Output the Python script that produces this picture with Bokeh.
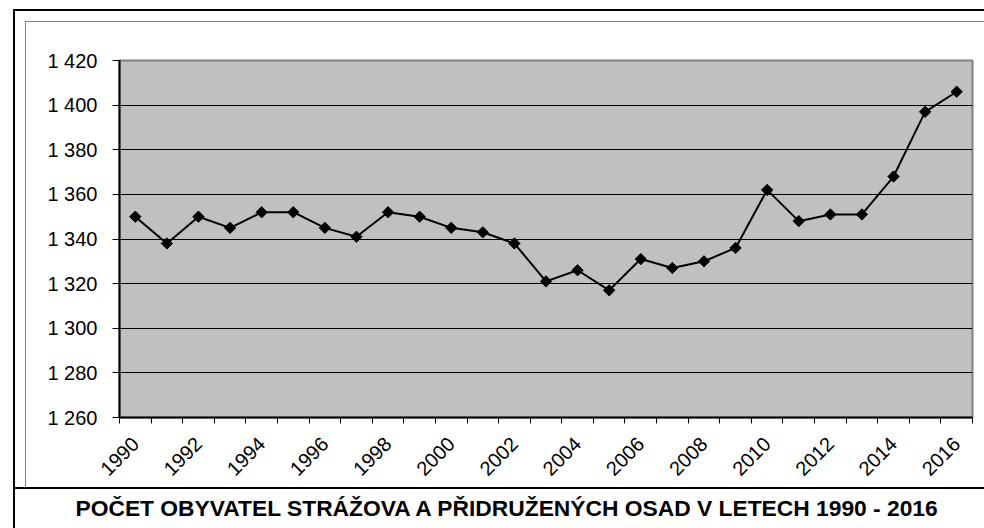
import math
from bokeh.plotting import figure
from bokeh.models import FixedTicker, Range1d, Title, InlineStyleSheet
from bokeh.embed import file_html
from bokeh.resources import INLINE

years = list(range(1990, 2017))
population = [1350, 1338, 1350, 1345, 1352, 1352, 1345, 1341, 1352, 1350,
              1345, 1343, 1338, 1321, 1326, 1317, 1331, 1327, 1330, 1336,
              1362, 1348, 1351, 1351, 1368, 1397, 1406]
label_years = list(range(1990, 2017, 2))
label_texts = [str(y) for y in label_years]
y_ticks = [1260, 1280, 1300, 1320, 1340, 1360, 1380, 1400, 1420]
y_tick_labels = ["1 260", "1 280", "1 300", "1 320", "1 340", "1 360", "1 380", "1 400", "1 420"]
title_text = "POČET OBYVATEL STRÁŽOVA A PŘIDRUŽENÝCH OSAD V LETECH 1990 - 2016"

W, H = 984, 528
FONT = "Liberation Sans"
FL, FT, FR, FB = 119, 60, 972, 417   # frame edges on the canvas

p = figure(width=W, height=H, output_backend="svg", toolbar_location=None,
           x_range=Range1d(years[0] - 0.5, years[-1] + 0.5),
           y_range=Range1d(y_ticks[0], y_ticks[-1]),
           min_border_left=FL, min_border_right=W - FR,
           min_border_top=FT, min_border_bottom=H - FB)

p.background_fill_color = "#C0C0C0"
p.border_fill_color = "white"
p.outline_line_color = "#808080"
p.outline_line_width = 2

# x axis
p.xaxis.ticker = FixedTicker(ticks=label_years,
                             minor_ticks=[years[0] - 0.5 + i for i in range(len(years) + 1)])
p.xaxis.major_label_overrides = {y: t for y, t in zip(label_years, label_texts)}
p.xaxis.major_tick_line_color = None
p.xaxis.minor_tick_in = 0
p.xaxis.minor_tick_out = 6
p.xaxis.minor_tick_line_color = "black"
p.xaxis.minor_tick_line_width = 1
p.xaxis.axis_line_color = "black"
p.xaxis.axis_line_width = 2
p.xaxis.major_label_orientation = math.pi / 4
p.xaxis.major_label_text_font = FONT
p.xaxis.major_label_text_font_size = "20px"
p.xaxis.major_label_text_color = "black"
p.xaxis.major_label_standoff = 17

# y axis
p.yaxis.ticker = FixedTicker(ticks=y_ticks)
p.yaxis.major_label_overrides = {v: t for v, t in zip(y_ticks, y_tick_labels)}
p.yaxis.major_tick_in = 0
p.yaxis.major_tick_out = 7
p.yaxis.major_tick_line_color = "black"
p.yaxis.minor_tick_line_color = None
p.yaxis.axis_line_color = "black"
p.yaxis.axis_line_width = 2
p.yaxis.major_label_text_font = FONT
p.yaxis.major_label_text_font_size = "20px"
p.yaxis.major_label_text_color = "black"
p.yaxis.major_label_standoff = 15

p.xgrid.grid_line_color = None
p.ygrid.ticker = FixedTicker(ticks=y_ticks)
p.ygrid.grid_line_color = "black"
p.ygrid.grid_line_width = 1

p.line(years, population, line_color="black", line_width=2)
p.scatter(years, population, marker="square", size=8, angle=math.pi / 4,
          fill_color="black", line_color="black")

title = Title(text=title_text, align="left", text_font=FONT, text_font_style="bold",
              text_font_size="22.8px", text_color="black", standoff=16, offset=-44)
p.add_layout(title, "below")

# decorative frame lines (outer box, inner chart-area box, title box)
css = """
:host { position: relative; }
:host::after {
  content: ""; position: absolute; left: 0; top: 0; width: 984px; height: 528px;
  pointer-events: none; z-index: 100;
  background:
    linear-gradient(#000, #000) 13px 9px / 2px 519px no-repeat,
    linear-gradient(#000, #000) 13px 9px / 971px 2px no-repeat,
    linear-gradient(#808080, #808080) 25px 21px / 1px 466px no-repeat,
    linear-gradient(#808080, #808080) 25px 21px / 959px 1px no-repeat,
    linear-gradient(#000, #000) 13px 487px / 971px 2px no-repeat;
}
"""
p.stylesheets = [InlineStyleSheet(css=css)]

open("out.html", "w").write(file_html(p, INLINE))
